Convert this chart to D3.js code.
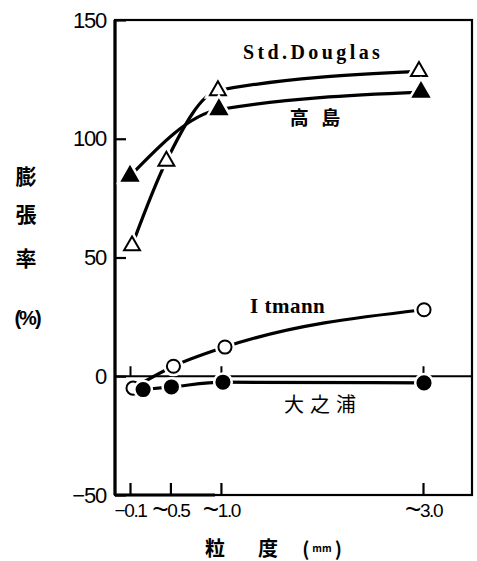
<!DOCTYPE html>
<html><head><meta charset="utf-8">
<script src="https://cdn.jsdelivr.net/npm/d3@7"></script>
<style>body{margin:0;background:#fff}svg{display:block}</style>
</head><body>
<svg id="c" width="477" height="561"></svg>
<script>
// ---- data ----
const xTicks = [0.1, 0.5, 1.0, 3.0];
const xTickLabels = ["−0.1", "~0.5", "~1.0", "~3.0"];
const yTicks = [-50, 0, 50, 100, 150];
const yTickLabels = ["−50", "0", "50", "100", "150"];

const douglasX = [0.12, 0.46, 0.97, 2.96];
const douglasY = [55, 90.6, 120.3, 128.4];
const takashimaX = [0.10, 0.98, 2.98];
const takashimaY = [84.3, 112.3, 119.6];
const itmannX = [0.13, 0.53, 1.04, 3.01];
const itmannY = [-5.0, 4.2, 12.3, 28.0];
const ohnouraX = [0.23, 0.51, 1.02, 3.01];
const ohnouraY = [-5.6, -4.5, -2.5, -2.8];

const seriesNames = ["Std.Douglas", "高 島", "I tmann", "大之浦"];

// ---- layout ----
const svg = d3.select("#c");
const L = 115, R = 472, T = 20, B = 495;
const x = d3.scaleLinear().domain([0.1, 3.0]).range([130, 423]);
const y = d3.scaleLinear().domain([-50, 150]).range([B, T]);
const sans = "'Liberation Sans', Arial, sans-serif";
const cjk = "'Noto Sans CJK JP', 'Noto Sans CJK SC', sans-serif";
const serif = "'Liberation Serif', 'Times New Roman', serif";

// frame
svg.append("rect").attr("x", L).attr("y", T).attr("width", R - L).attr("height", B - T)
  .attr("fill", "none").attr("stroke", "#000").attr("stroke-width", 2.2);
svg.append("line").attr("x1", L).attr("x2", L).attr("y1", T).attr("y2", B)
  .attr("stroke", "#000").attr("stroke-width", 3.2);
svg.append("line").attr("x1", L).attr("x2", L + 100).attr("y1", B).attr("y2", B)
  .attr("stroke", "#000").attr("stroke-width", 3);

// zero line
svg.append("line").attr("x1", L).attr("x2", R).attr("y1", y(0)).attr("y2", y(0))
  .attr("stroke", "#000").attr("stroke-width", 2);

// y axis
const yAxis = d3.axisLeft(y).tickValues(yTicks).tickSize(-11)
  .tickFormat((d, i) => yTickLabels[i]).tickPadding(20);
const gy = svg.append("g").attr("transform", `translate(${L},0)`).call(yAxis);
gy.select(".domain").remove();
gy.selectAll(".tick line").attr("stroke", "#000").attr("stroke-width", 2.2);
gy.selectAll(".tick text").attr("font-family", sans).attr("font-size", 22)
  .attr("fill", "#000").attr("x", -9).attr("letter-spacing", -1.2);

// x axis (bottom)
const xAxis = d3.axisBottom(x).tickValues(xTicks).tickSize(-12)
  .tickFormat((d, i) => xTickLabels[i]).tickPadding(16);
const gx = svg.append("g").attr("transform", `translate(0,${B})`).call(xAxis);
gx.select(".domain").remove();
gx.selectAll(".tick line").attr("stroke", "#000").attr("stroke-width", 2.2);
gx.selectAll(".tick text").each(function () {
  const t = d3.select(this);
  const s = t.text();
  t.text(null).attr("font-family", sans).attr("font-size", 19).attr("fill", "#000")
    .attr("y", 22).attr("dy", null).attr("letter-spacing", -1.4);
  t.append("tspan").attr("font-size", s[0] === "~" ? 28 : 19)
    .attr("dy", s[0] === "~" ? 2 : 0).text(s[0]);
  t.append("tspan").attr("font-size", 19).attr("dy", s[0] === "~" ? -2 : 0).text(s.slice(1));
});

// ticks on zero line
const gz = svg.append("g").attr("transform", `translate(0,${y(0)})`)
  .call(d3.axisBottom(x).tickValues(xTicks).tickSize(-10).tickFormat(""));
gz.select(".domain").remove();
gz.selectAll(".tick line").attr("stroke", "#000").attr("stroke-width", 2);

// series
const line = d3.line().x(d => x(d[0])).y(d => y(d[1])).curve(d3.curveMonotoneX);
function series(xs, ys, shape, filled) {
  const pts = xs.map((v, i) => [v, ys[i]]);
  svg.append("path").datum(pts).attr("d", line).attr("fill", "none")
    .attr("stroke", "#000").attr("stroke-width", 3.2);
  const size = shape === d3.symbolTriangle ? 110 : 135;
  const sym = d3.symbol().type(shape).size(size);
  svg.append("g").selectAll("path").data(pts).join("path")
    .attr("d", sym).attr("transform", d => `translate(${x(d[0])},${y(d[1])})`)
    .attr("fill", "#fff").attr("stroke", "#fff").attr("stroke-width", 7);
  svg.append("g").selectAll("path").data(pts).join("path")
    .attr("d", sym).attr("transform", d => `translate(${x(d[0])},${y(d[1])})`)
    .attr("fill", filled ? "#000" : "#fff").attr("stroke", "#000").attr("stroke-width", 2);
}
series(douglasX, douglasY, d3.symbolTriangle, false);
series(takashimaX, takashimaY, d3.symbolTriangle, true);
series(itmannX, itmannY, d3.symbolCircle, false);
series(ohnouraX, ohnouraY, d3.symbolCircle, true);

// series labels
svg.append("text").attr("x", 243).attr("y", 59).text(seriesNames[0])
  .attr("font-family", serif).attr("font-weight", "bold").attr("font-size", 20)
  .attr("letter-spacing", 3.4);
svg.append("text").attr("x", 317).attr("y", 116).attr("text-anchor", "middle")
  .attr("dominant-baseline", "central").text(seriesNames[1])
  .attr("font-family", cjk).attr("font-weight", "bold").attr("font-size", 19)
  .attr("letter-spacing", 4);
svg.append("text").attr("x", 250).attr("y", 313).text(seriesNames[2])
  .attr("font-family", serif).attr("font-weight", "bold").attr("font-size", 21)
  .attr("letter-spacing", 0.5);
svg.append("text").attr("x", 323).attr("y", 403).attr("text-anchor", "middle")
  .attr("dominant-baseline", "central").text(seriesNames[3])
  .attr("font-family", cjk).attr("font-size", 20).attr("letter-spacing", 6);

// y axis title (vertical stack)
const yTitle = ["膨", "張", "率"];
const yTitleY = [175, 213, 257];
yTitle.forEach((ch, i) => {
  svg.append("text").attr("x", 26).attr("y", yTitleY[i]).attr("text-anchor", "middle")
    .attr("dominant-baseline", "central").text(ch)
    .attr("font-family", cjk).attr("font-weight", "bold").attr("font-size", 21);
});
svg.append("text").attr("x", 27).attr("y", 318).attr("text-anchor", "middle")
  .attr("dominant-baseline", "central").text("(%)")
  .attr("font-family", sans).attr("font-weight", "bold").attr("font-size", 20)
  .attr("letter-spacing", -2);

// x axis title
const xt = svg.append("text").attr("y", 547).attr("dominant-baseline", "central")
  .attr("font-family", cjk).attr("font-weight", "bold").attr("font-size", 20);
xt.append("tspan").attr("x", 215).attr("text-anchor", "middle").text("粒");
xt.append("tspan").attr("x", 268).attr("text-anchor", "middle").text("度");
const xu = svg.append("text").attr("y", 547).attr("x", 322).attr("text-anchor", "middle")
  .attr("dominant-baseline", "central").attr("font-family", cjk).attr("font-weight", "bold").attr("font-size", 19);
xu.append("tspan").text("(");
xu.append("tspan").attr("font-size", 10).attr("dx", 3).text("mm");
xu.append("tspan").attr("dx", 3).text(")");
</script>
</body></html>
